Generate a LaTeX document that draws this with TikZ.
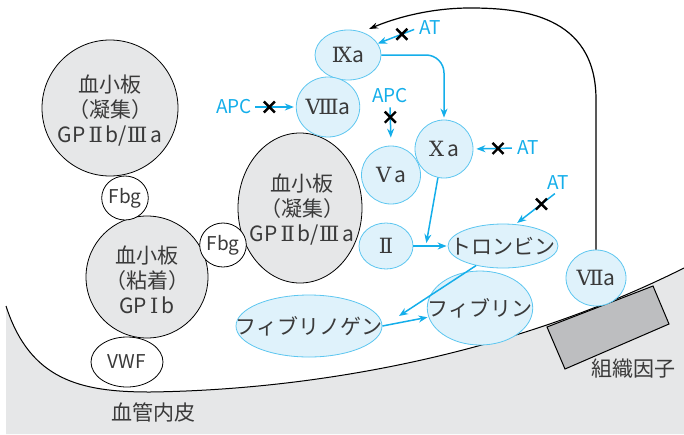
\documentclass[tikz,border=0pt]{standalone}
\usepackage{fontspec}
\setmainfont{Noto Sans CJK JP}
\newfontfamily\rn{DejaVu Serif}
\usetikzlibrary{arrows.meta,calc,shapes.geometric}
\definecolor{txt}{HTML}{3A3A3A}
\definecolor{cyn}{HTML}{14AEEA}
\definecolor{cfill}{HTML}{DFF2FB}
\definecolor{cedge}{HTML}{5CC6F0}
\definecolor{gfill}{HTML}{E6E7E8}
\definecolor{tfc}{HTML}{BDBEC0}
\tikzset{
  plate/.style={ellipse, draw=black, line width=0.8pt, fill=gfill, inner sep=0pt},
  platetext/.style={text=txt, align=center, font=\fontsize{21}{25}\selectfont, inner sep=0pt},
  fac/.style={ellipse, draw=cedge, line width=0.8pt, fill=cfill, text=txt, inner sep=0pt, font=\fontsize{21}{22}\selectfont},
  wnode/.style={ellipse, draw=black, line width=0.8pt, fill=white, text=txt, inner sep=0pt, font=\fontsize{19}{20}\selectfont},
  lab/.style={text=cyn, font=\fontsize{19}{19}\selectfont, inner sep=1pt},
  jlab/.style={text=txt, font=\fontsize{21}{22}\selectfont, inner sep=0pt},
  carr/.style={draw=cyn, line width=1.5pt, -{Stealth[length=9pt,width=7pt]}},
  xm/.pic={\draw[-, black, line width=2.4pt, shorten <=0pt, shorten >=0pt] (-5.5,-5.5) -- (5.5,5.5) (-5.5,5.5) -- (5.5,-5.5);}
}
\newcommand\rsp{\hspace{3pt}}
\begin{document}
\begin{tikzpicture}[x=1pt,y=-1pt]
\useasboundingbox (0,0) rectangle (684,434);
% endothelium
\fill[gfill] (6,306) .. controls (30,380) and (80,392) .. (150,392)
  .. controls (300,390) and (500,360) .. (684,268) -- (684,434) -- (6,434) -- cycle;
\draw[line width=1pt] (6,306) .. controls (30,380) and (80,392) .. (150,392)
  .. controls (300,390) and (500,360) .. (684,268);
% tissue factor
\draw[fill=tfc, line width=1pt] (547,327) -- (653,286) -- (669,324) -- (565,369) -- cycle;
\node[jlab] (tflab) at (633,369) {組織因子};
\node[jlab] (endo) at (153,412) {血管内皮};
% platelets
\node[plate, minimum width=136pt, minimum height=136pt] (p1) at (110,108) {};
\node[platetext] (p1t) at (110,111) {血小板\\（凝集）\\GP\rsp{\rn Ⅱ}\rsp b/{\rn Ⅲ}\rsp a};
\node[plate, minimum width=122pt, minimum height=122pt] (p2) at (147,277) {};
\node[platetext] (p2t) at (147,280) {血小板\\（粘着）\\GP\rsp{\rn Ⅰ}\rsp b};
\node[plate, minimum width=124pt, minimum height=150pt] (p3) at (300,208) {};
\node[platetext] (p3t) at (302,210) {血小板\\（凝集）\\GP\rsp{\rn Ⅱ}\rsp b/{\rn Ⅲ}\rsp a};
\node[wnode, minimum width=44pt, minimum height=44pt] (fbg1) at (125,198) {Fbg};
\node[wnode, minimum width=44pt, minimum height=44pt] (fbg2) at (223,245) {Fbg};
\node[wnode, minimum width=72pt, minimum height=50pt] (vwf) at (127,362) {VWF};
% factors
\node[fac, minimum width=66pt, minimum height=50pt] (ixa) at (348,55) {{\rn Ⅸ}a};
\node[fac, minimum width=60pt, minimum height=60pt] (viiia) at (328,107) {{\rn Ⅷ}a};
\node[fac, minimum width=59pt, minimum height=58pt] (va) at (391,175) {{\rn Ⅴ}\rsp a};
\node[fac, minimum width=58pt, minimum height=58pt] (xa) at (444,149) {{\rn Ⅹ}\rsp a};
\node[fac, minimum width=54pt, minimum height=46pt] (ii) at (386,246) {{\rn Ⅱ}};
\node[fac, minimum width=110pt, minimum height=44pt, inner xsep=-20pt, inner ysep=-4pt] (thr) at (503,246) {トロンビン};
\node[fac, minimum width=60pt, minimum height=56pt] (viia) at (596,278) {{\rn Ⅶ}a};
\node[fac, minimum width=100pt, minimum height=74pt, inner xsep=-15pt, inner ysep=-4pt] (fibrin) at (480,308) {フィブリン};
\node[fac, minimum width=146pt, minimum height=62pt, inner xsep=-25pt, inner ysep=-4pt] (fbgn) at (309,326) {フィブリノゲン};
% labels
\node[lab] (apc1) at (234,107) {APC};
\node[lab] (apc2) at (390,96) {APC};
\node[lab] (at1) at (430,28) {AT};
\node[lab] (at2) at (528,148) {AT};
\node[lab] (at3) at (558,183) {AT};
\coordinate (blk) at (369,29);
\coordinate (j) at (426,245);
\coordinate (tgt) at (399,316);
% black feedback arrow
\draw[line width=1.2pt, -{Stealth[length=9pt,width=6pt]}] (viia.north) -- ++(0,-150)
  .. controls +(0,-85) and (520,8) .. (470,8)
  .. controls (430,8) and (395,18) .. (blk);
% cyan arrows
\draw[carr, shorten <=2pt, shorten >=2pt] (apc1.east) -- pic[pos=0.38]{xm} (viiia.west);
\draw[carr, shorten <=3pt, shorten >=8pt] (apc2.south) -- pic[pos=0.31]{xm} (va.north);
\draw[carr, shorten <=4pt] (at1.west) -- pic[pos=0.4]{xm} (ixa);
\draw[carr, shorten <=4pt, shorten >=3pt] (at2.west) -- pic[pos=0.42]{xm} (xa.east);
\draw[carr, shorten <=4pt, shorten >=2pt] (at3.south) -- pic[pos=0.39]{xm} (thr.60);
\draw[carr, rounded corners=18pt, shorten >=2pt] (ixa.east) -| (xa.north);
\draw[carr, shorten >=2pt] (xa.258) -- (j);
\draw[carr, shorten >=1pt] (ii.east) -- (thr.west);
\draw[carr] (thr.216) -- (tgt);
\draw[carr, shorten >=1pt] (fbgn.east) -- (fibrin.190);
\end{tikzpicture}
\end{document}
